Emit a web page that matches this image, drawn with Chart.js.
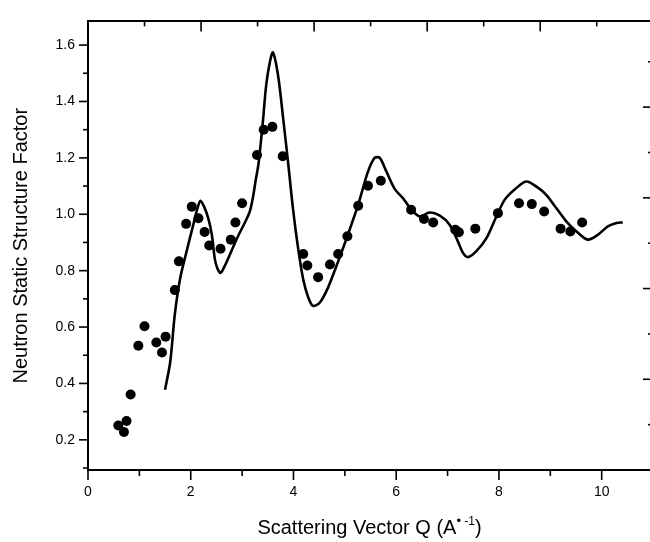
<!DOCTYPE html>
<html lang="en">
<head>
<meta charset="UTF-8">
<title>Neutron Static Structure Factor</title>
<style>
  html, body { margin: 0; padding: 0; background: #fff; overflow: hidden; }
  #wrap { width: 662px; height: 542px; }
</style>
<script src="https://cdn.jsdelivr.net/npm/chart.js"></script>
</head>
<body>
<div id="wrap"><canvas id="sqChart" width="662" height="542"></canvas></div>
<script>
// calculated S(Q), solid line
const qCurve = [1.50, 1.60, 1.69, 1.79, 1.92, 2.05, 2.13, 2.19, 2.26, 2.34, 2.41, 2.47, 2.52, 2.58, 2.66, 2.79, 2.92, 3.05, 3.15, 3.22,
                3.26, 3.32, 3.40, 3.47, 3.54, 3.60, 3.70, 3.80, 3.90, 3.99, 4.09, 4.19, 4.29, 4.38, 4.51, 4.67, 4.87, 5.06, 5.26, 5.45,
                5.58, 5.68, 5.81, 5.97, 6.13, 6.30, 6.46, 6.65, 6.85, 7.04, 7.20, 7.30, 7.40, 7.56, 7.76, 7.95, 8.11, 8.30, 8.53, 8.73,
                8.92, 9.12, 9.31, 9.51, 9.73, 9.93, 10.12, 10.29, 10.41];
const sCurve = [0.378, 0.475, 0.645, 0.769, 0.869, 0.963, 1.021, 1.048, 1.027, 0.986, 0.928, 0.840, 0.808, 0.792, 0.816, 0.869, 0.922, 0.969, 1.010, 1.069,
                1.116, 1.18, 1.32, 1.46, 1.539, 1.574, 1.492, 1.339, 1.175, 1.021, 0.880, 0.769, 0.704, 0.675, 0.686, 0.739, 0.833, 0.928, 1.034, 1.151,
                1.200, 1.200, 1.151, 1.090, 1.057, 1.016, 0.992, 1.006, 0.995, 0.963, 0.904, 0.863, 0.848, 0.869, 0.916, 0.992, 1.051, 1.087, 1.116, 1.098,
                1.069, 1.021, 0.975, 0.939, 0.910, 0.928, 0.957, 0.969, 0.971];

// measured S(Q), dots
const qPoints = [0.59, 0.70, 0.75, 0.83, 0.98, 1.10, 1.33, 1.44, 1.51, 1.69, 1.77, 1.91, 2.02, 2.15, 2.27, 2.36, 2.58, 2.78, 2.87, 3.00,
                 3.29, 3.42, 3.59, 3.79, 4.19, 4.27, 4.48, 4.71, 4.87, 5.05, 5.26, 5.45, 5.70, 6.29, 6.54, 6.72, 7.15, 7.22, 7.54, 7.98,
                 8.39, 8.64, 8.88, 9.20, 9.39, 9.62];
const sPoints = [0.251, 0.228, 0.267, 0.361, 0.534, 0.603, 0.545, 0.510, 0.566, 0.731, 0.833, 0.966, 1.027, 0.986, 0.937, 0.889, 0.878, 0.910, 0.971, 1.039,
                 1.21, 1.30, 1.31, 1.206, 0.859, 0.818, 0.777, 0.822, 0.859, 0.922, 1.030, 1.101, 1.119, 1.016, 0.983, 0.971, 0.945, 0.936, 0.949, 1.004,
                 1.039, 1.036, 1.010, 0.949, 0.939, 0.971];

const FONT = "'Liberation Sans', Arial, Helvetica, sans-serif";

// draws the major and minor tick marks on all four sides
const tickMarks = {
    id: 'tickMarks',
    afterDraw(chart) {
        const ctx = chart.ctx;
        const a = chart.chartArea;
        ctx.save();
        ctx.strokeStyle = '#000';
        ctx.lineWidth = 1.6;
        const sides = [
            ['x', 'bottom', 10, 6],
            ['y', 'left', 9, 5],
            ['x2', 'top', 10, 5],
            ['y2', 'right', 8, 3]
        ];
        sides.forEach(([id, side, major, minor]) => {
            const s = chart.scales[id];
            const vals = s.ticks.map(t => t.value);
            const half = (vals[1] - vals[0]) / 2;
            const marks = vals.map(v => [v, major]);
            [vals[0] - half].concat(vals.map(v => v + half)).forEach(v => {
                if (v > s.min && v < s.max) marks.push([v, minor]);
            });
            marks.forEach(([v, len]) => {
                const p = s.getPixelForValue(v);
                ctx.beginPath();
                if (side === 'bottom') { ctx.moveTo(p, a.bottom); ctx.lineTo(p, a.bottom + len); }
                if (side === 'top') { ctx.moveTo(p, a.top); ctx.lineTo(p, a.top + len); }
                if (side === 'left') { ctx.moveTo(a.left, p); ctx.lineTo(a.left - len, p); }
                if (side === 'right') { ctx.moveTo(a.right, p); ctx.lineTo(a.right - len, p); }
                ctx.stroke();
            });
        });
        ctx.restore();
    }
};

// x axis title with the superscripts
const xTitle = {
    id: 'xTitle',
    afterDraw(chart) {
        const ctx = chart.ctx;
        const a = chart.chartArea;
        const parts = [
            ['Scattering Vector Q (A', 20, 0],
            ['\u2022', 13, 9],
            [' -1', 12, 9],
            [')', 20, 0]
        ];
        ctx.save();
        ctx.fillStyle = '#000';
        ctx.textBaseline = 'alphabetic';
        let total = 0;
        parts.forEach(([t, size]) => { ctx.font = size + 'px ' + FONT; total += ctx.measureText(t).width; });
        let x = (a.left + a.right) / 2 - total / 2;
        const base = 534;
        parts.forEach(([t, size, rise]) => {
            ctx.font = size + 'px ' + FONT;
            ctx.fillText(t, x, base - rise);
            x += ctx.measureText(t).width;
        });
        ctx.restore();
    }
};

const ctx = document.getElementById('sqChart').getContext('2d');

new Chart(ctx, {
    data: {
        datasets: [
            {
                type: 'line',
                data: qCurve.map((q, i) => ({ x: q, y: sCurve[i] })),
                borderColor: '#000',
                borderWidth: 2.6,
                pointRadius: 0,
                tension: 0.3,
                fill: false
            },
            {
                type: 'scatter',
                data: qPoints.map((q, i) => ({ x: q, y: sPoints[i] })),
                backgroundColor: '#000',
                borderWidth: 0,
                pointRadius: 5
            }
        ]
    },
    options: {
        responsive: false,
        animation: false,
        layout: { padding: { left: 0, right: 11, top: 19, bottom: 0 } },
        plugins: {
            legend: { display: false },
            tooltip: { enabled: false }
        },
        scales: {
            x: {
                type: 'linear',
                position: 'bottom',
                min: 0,
                max: 10.96,
                grid: { display: false, drawTicks: false },
                border: { display: true, color: '#000', width: 2 },
                ticks: {
                    stepSize: 2,
                    includeBounds: false,
                    padding: 14,
                    color: '#000',
                    font: { family: FONT, size: 14 },
                    callback: v => String(v)
                },
                afterFit: s => { s.height = 72; }
            },
            x2: {
                type: 'linear',
                position: 'top',
                min: 0,
                max: 9.96,
                grid: { display: false, drawTicks: false },
                border: { display: true, color: '#000', width: 2 },
                ticks: { display: false, stepSize: 2, includeBounds: false },
                afterFit: s => { s.height = 0; }
            },
            y: {
                type: 'linear',
                position: 'left',
                min: 0.093,
                max: 1.684,
                grid: { display: false, drawTicks: false },
                border: { display: true, color: '#000', width: 2 },
                ticks: {
                    stepSize: 0.2,
                    includeBounds: false,
                    padding: 13,
                    color: '#000',
                    font: { family: FONT, size: 14 },
                    callback: v => v.toFixed(1)
                },
                title: {
                    display: true,
                    text: 'Neutron Static Structure Factor',
                    color: '#000',
                    font: { family: FONT, size: 20 },
                    padding: { top: 9, bottom: 0 }
                },
                afterFit: s => { s.width = 88; }
            },
            y2: {
                type: 'linear',
                position: 'right',
                min: 0,
                max: 9.89,
                grid: { display: false, drawTicks: false },
                border: { display: false },
                ticks: { display: false, stepSize: 2, includeBounds: false },
                afterFit: s => { s.width = 0; }
            }
        }
    },
    plugins: [tickMarks, xTitle]
});
</script>
</body>
</html>
